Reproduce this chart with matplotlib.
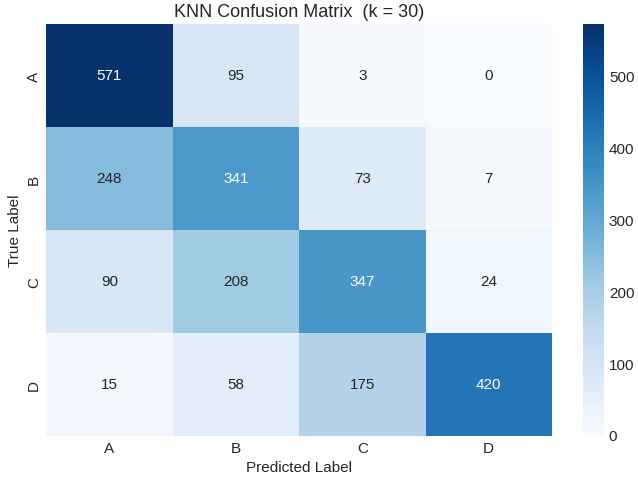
import matplotlib
matplotlib.use("Agg")
import matplotlib.pyplot as plt
import numpy as np
import seaborn as sns

labels = ["A", "B", "C", "D"]
row_a = [571, 95, 3, 0]
row_b = [248, 341, 73, 7]
row_c = [90, 208, 347, 24]
row_d = [15, 58, 175, 420]

cm = np.array([row_a, row_b, row_c, row_d])

sns.set_style("white")
plt.rcParams["font.family"] = ["Liberation Sans", "DejaVu Sans"]

fig = plt.figure(figsize=(6.38, 4.81), dpi=100)
W, H = 638, 481
ax = fig.add_axes([46 / W, (H - 437) / H, (552 - 46) / W, (437 - 25) / H])
cax = fig.add_axes([583 / W, (H - 436) / H, 21 / W, (436 - 25) / H])

sns.heatmap(cm, annot=True, fmt="d", cmap="Blues", ax=ax, cbar_ax=cax,
            xticklabels=labels, yticklabels=labels,
            annot_kws={"fontsize": 11})

ax.set_title("KNN Confusion Matrix  (k = 30)", fontsize=13)
ax.set_xlabel("Predicted Label", fontsize=11)
ax.set_ylabel("True Label", fontsize=11)
ax.tick_params(labelsize=11, length=0)
cax.tick_params(labelsize=11, length=0)
cax.collections[0].set_edgecolor("face") if cax.collections else None
for s in cax.spines.values():
    s.set_visible(False)

fig.savefig("out.png", dpi=100)
